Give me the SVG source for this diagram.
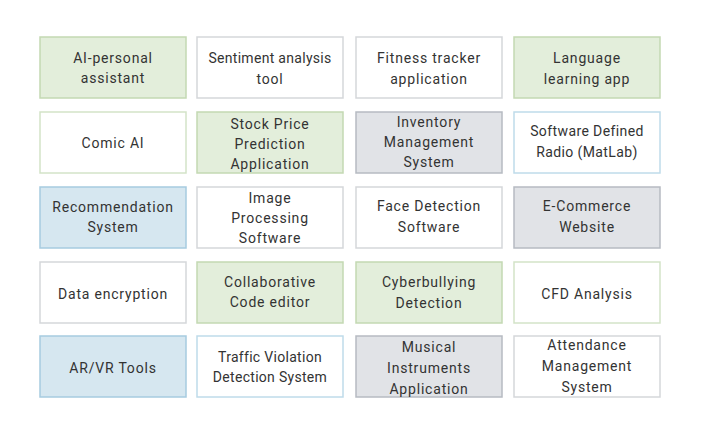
<svg xmlns="http://www.w3.org/2000/svg" width="701" height="436" viewBox="0 0 701 436">
<style>
rect{stroke-width:1.5}
.g{fill:#e3eedb;stroke:#c3d9b3}
.b{fill:#d6e7f0;stroke:#a6cbe0}
.y{fill:#e1e3e7;stroke:#b6bbc2}
.w{fill:#fff;stroke:#d5d7da}
.wg{fill:#fff;stroke:#d3e3c8}
.wb{fill:#fff;stroke:#bfdbea}
text{font-family:Roboto,"Liberation Sans",sans-serif;font-size:14px;fill:#333;text-anchor:middle;letter-spacing:0.8px}
</style>
<rect width="701" height="436" fill="#fff"/>
<g id="n1"><rect class="g" x="40" y="37" width="146" height="61"/><text x="113" y="63">AI-personal</text><text x="113" y="83">assistant</text></g>
<g id="n2"><rect class="w" x="197" y="37" width="146" height="61"/><text x="270" y="63" style="letter-spacing:0.3px">Sentiment analysis</text><text x="270" y="84">tool</text></g>
<g id="n3"><rect class="w" x="356" y="37" width="146" height="61"/><text x="429" y="63">Fitness tracker</text><text x="429" y="84">application</text></g>
<g id="n4"><rect class="g" x="514" y="37" width="146" height="61"/><text x="587" y="63">Language</text><text x="587" y="84">learning app</text></g>
<g id="n5"><rect class="wg" x="40" y="112" width="146" height="61"/><text x="113" y="148">Comic AI</text></g>
<g id="n6"><rect class="g" x="197" y="112" width="146" height="61"/><text x="270" y="129">Stock Price</text><text x="270" y="149">Prediction</text><text x="270" y="169">Application</text></g>
<g id="n7"><rect class="y" x="356" y="112" width="146" height="61"/><text x="429" y="127">Inventory</text><text x="429" y="147">Management</text><text x="429" y="167">System</text></g>
<g id="n8"><rect class="wb" x="514" y="112" width="146" height="61"/><text x="587" y="136" style="letter-spacing:0.4px">Software Defined</text><text x="587" y="157" style="letter-spacing:0.4px">Radio (MatLab)</text></g>
<g id="n9"><rect class="b" x="40" y="187" width="146" height="61"/><text x="113" y="212">Recommendation</text><text x="113" y="232">System</text></g>
<g id="n10"><rect class="w" x="197" y="187" width="146" height="61"/><text x="270" y="203">Image</text><text x="270" y="223">Processing</text><text x="270" y="243">Software</text></g>
<g id="n11"><rect class="w" x="356" y="187" width="146" height="61"/><text x="429" y="211">Face Detection</text><text x="429" y="232">Software</text></g>
<g id="n12"><rect class="y" x="514" y="187" width="146" height="61"/><text x="587" y="211">E-Commerce</text><text x="587" y="232">Website</text></g>
<g id="n13"><rect class="w" x="40" y="262" width="146" height="61"/><text x="113" y="299">Data encryption</text></g>
<g id="n14"><rect class="g" x="197" y="262" width="146" height="61"/><text x="270" y="287">Collaborative</text><text x="270" y="307">Code editor</text></g>
<g id="n15"><rect class="g" x="356" y="262" width="146" height="61"/><text x="429" y="287">Cyberbullying</text><text x="429" y="308">Detection</text></g>
<g id="n16"><rect class="wg" x="514" y="262" width="146" height="61"/><text x="587" y="299">CFD Analysis</text></g>
<g id="n17"><rect class="b" x="40" y="336" width="146" height="61"/><text x="113" y="373">AR/VR Tools</text></g>
<g id="n18"><rect class="wb" x="197" y="336" width="146" height="61"/><text x="270" y="362" style="letter-spacing:0.3px">Traffic Violation</text><text x="270" y="382" style="letter-spacing:0.3px">Detection System</text></g>
<g id="n19"><rect class="y" x="356" y="336" width="146" height="61"/><text x="429" y="352">Musical</text><text x="429" y="373">Instruments</text><text x="429" y="394">Application</text></g>
<g id="n20"><rect class="w" x="514" y="336" width="146" height="61"/><text x="587" y="350">Attendance</text><text x="587" y="371">Management</text><text x="587" y="392">System</text></g>
<g id="connectors"/>
</svg>
